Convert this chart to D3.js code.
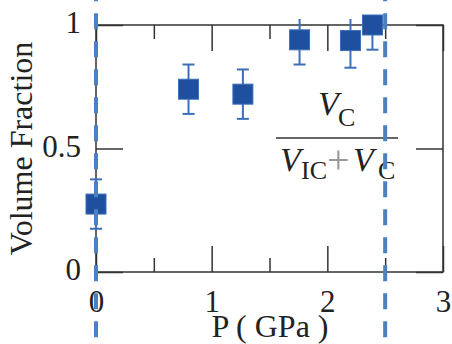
<!DOCTYPE html>
<html lang="en">
<head>
<meta charset="utf-8">
<script src="https://d3js.org/d3.v7.min.js"></script>
<style>
  body { margin: 0px; background: #fff; }
  .domain { display: none; }
  .tick line { stroke: #333; stroke-width: 1.5; }
</style>
</head>
<body>
<svg width="452" height="344"></svg>
<script>
  // data
  const pressure = [0, 0.8, 1.27, 1.76, 2.2, 2.39];
  const fraction = [0.275, 0.74, 0.72, 0.94, 0.937, 1.0];
  const errUp = [0.1, 0.1, 0.1, 0.1, 0.1, 0.1];
  const errDown = [0.1, 0.1, 0.1, 0.1, 0.11, 0.1];
  const xMajor = [0, 1, 2, 3];
  const xMinor = [0.5, 1.5, 2.5];
  const yMajor = [0, 0.5, 1];
  const yLabels = ['0', '0.5', '1'];
  const dashedAt = [0, 2.5];

  const serif = '"Liberation Serif", "Times New Roman", serif';
  const ink = '#222';

  const margin = { left: 96, right: 9, top: 25, bottom: 72 };
  const svg = d3.select('svg');
  const width = +svg.attr('width');
  const height = +svg.attr('height');
  const innerWidth = width - margin.left - margin.right;
  const innerHeight = height - margin.top - margin.bottom;

  const x = d3.scaleLinear().domain([0, 3]).range([margin.left, margin.left + innerWidth]);
  const y = d3.scaleLinear().domain([0, 1]).range([margin.top + innerHeight, margin.top]);

  const data = pressure.map((p, i) => ({ p, v: fraction[i], up: errUp[i], down: errDown[i] }));

  // frame
  svg.append('rect')
    .attr('x', x(0)).attr('y', y(1))
    .attr('width', x(3) - x(0)).attr('height', y(0) - y(1))
    .attr('fill', 'none').attr('stroke', '#333').attr('stroke-width', 1.5);

  const styleTicks = sel => sel.selectAll('text')
    .style('font-family', serif).style('font-size', '31px').style('fill', ink);

  // axes, ticks pointing inward
  svg.append('g')
    .attr('transform', `translate(0,${y(0)})`)
    .call(d3.axisBottom(x).tickValues(xMajor).tickSize(-26).tickPadding(18).tickFormat(d3.format('d')))
    .call(styleTicks);
  svg.append('g')
    .attr('transform', `translate(0,${y(0)})`)
    .call(d3.axisBottom(x).tickValues(xMinor).tickSize(-14).tickFormat(''));
  svg.append('g')
    .attr('transform', `translate(0,${y(1)})`)
    .call(d3.axisTop(x).tickValues(xMajor).tickSize(-26).tickFormat(''));
  svg.append('g')
    .attr('transform', `translate(0,${y(1)})`)
    .call(d3.axisTop(x).tickValues(xMinor).tickSize(-14).tickFormat(''));
  svg.append('g')
    .attr('transform', `translate(${x(0)},0)`)
    .call(d3.axisLeft(y).tickValues(yMajor).tickSize(-27).tickPadding(15).tickFormat((d, i) => yLabels[i]))
    .call(styleTicks)
    .selectAll('text').attr('dy', '0.25em');
  svg.append('g')
    .attr('transform', `translate(${x(3)},0)`)
    .call(d3.axisRight(y).tickValues(yMajor).tickSize(-27).tickFormat(''));

  const label = sel => sel.style('font-family', serif).style('font-size', '32px').style('fill', ink);

  // axis titles
  svg.append('text')
    .call(label)
    .attr('transform', `translate(32,${y(0.5)}) rotate(-90)`)
    .attr('text-anchor', 'middle')
    .text('Volume Fraction');
  svg.append('text')
    .call(label)
    .attr('x', 270).attr('y', 337)
    .attr('text-anchor', 'middle')
    .text('P ( GPa )');

  // fraction Vc / (Vic + Vc)
  const num = svg.append('text').call(label);
  num.append('tspan').attr('x', 318).attr('y', 115)
    .attr('font-style', 'italic').style('font-size', '34px').text('V');
  num.append('tspan').attr('x', 338).attr('y', 126)
    .style('font-size', '26px').text('C');
  svg.append('line')
    .attr('x1', 276).attr('x2', 398).attr('y1', 138).attr('y2', 138)
    .attr('stroke', '#333').attr('stroke-width', 1.5);
  const den = svg.append('text').call(label);
  den.append('tspan').attr('x', 280).attr('y', 171)
    .attr('font-style', 'italic').style('font-size', '34px').text('V');
  den.append('tspan').attr('x', 301).attr('y', 179)
    .style('font-size', '26px').text('IC');
  den.append('tspan').attr('x', 327).attr('y', 173)
    .style('font-size', '40px').style('fill', '#999').text('+');
  den.append('tspan').attr('x', 353).attr('y', 171)
    .attr('font-style', 'italic').style('font-size', '34px').text('V');
  den.append('tspan').attr('x', 378).attr('y', 179)
    .style('font-size', '26px').text('C');

  // error bars
  svg.append('clipPath').attr('id', 'clip')
    .append('rect').attr('x', 0).attr('y', 19).attr('width', width).attr('height', height);
  const err = svg.append('g')
    .attr('clip-path', 'url(#clip)')
    .attr('stroke', '#3c6fb8').attr('stroke-width', 2);
  err.selectAll('line.bar').data(data).join('line')
    .attr('class', 'bar')
    .attr('x1', d => x(d.p)).attr('x2', d => x(d.p))
    .attr('y1', d => y(d.v + d.up)).attr('y2', d => y(d.v - d.down));
  err.selectAll('line.capTop').data(data).join('line')
    .attr('class', 'capTop')
    .attr('x1', d => x(d.p) - 6).attr('x2', d => x(d.p) + 6)
    .attr('y1', d => y(d.v + d.up)).attr('y2', d => y(d.v + d.up));
  err.selectAll('line.capBot').data(data).join('line')
    .attr('class', 'capBot')
    .attr('x1', d => x(d.p) - 6).attr('x2', d => x(d.p) + 6)
    .attr('y1', d => y(d.v - d.down)).attr('y2', d => y(d.v - d.down));

  // square markers
  svg.append('g').selectAll('rect').data(data).join('rect')
    .attr('x', d => x(d.p) - 10).attr('y', d => y(d.v) - 10)
    .attr('width', 20).attr('height', 20)
    .attr('fill', '#1f4f9f').attr('stroke', '#3c6fb8').attr('stroke-width', 1);

  // dashed guide lines
  svg.append('g').selectAll('line').data(dashedAt).join('line')
    .attr('x1', d => x(d)).attr('x2', d => x(d))
    .attr('y1', -14.7).attr('y2', height)
    .attr('stroke', '#4a80c4').attr('stroke-width', 4)
    .attr('stroke-dasharray', '16,12');
</script>
</body>
</html>
